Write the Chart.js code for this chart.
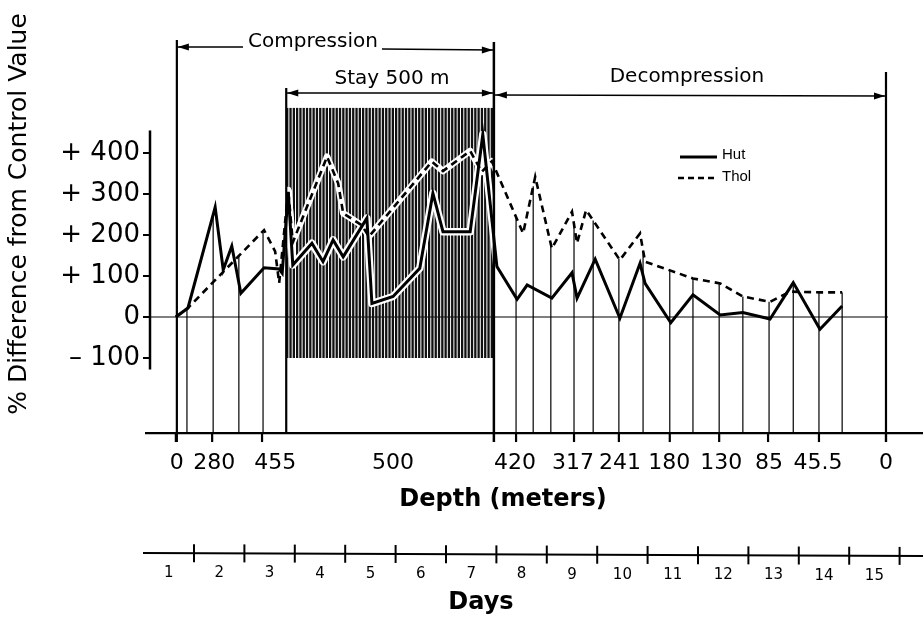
<!DOCTYPE html>
<html lang="en">
<head>
<meta charset="utf-8" />
<title>Hut and Thol through compression, stay and decompression</title>
<script src="https://cdn.jsdelivr.net/npm/chart.js@4.4.1/dist/chart.umd.min.js"></script>
<style>
    html, body { margin: 0; padding: 0; background: #fff; }
    #wrap { width: 923px; height: 620px; }
</style>
</head>
<body>
<div id="wrap"><canvas id="chart" width="923" height="620"></canvas></div>

<script>
// sample times, in days from the start of the record
var days = [0.64, 0.88, 1.42, 1.58, 1.75, 1.93, 2.39, 2.61, 2.69, 2.75, 2.87, 2.96, 3.34, 3.56, 3.64, 3.76, 3.86, 3.96,
            4.33, 4.43, 4.47, 4.53, 4.95, 5.48, 5.72, 5.74, 5.94, 6.48, 6.71, 6.73, 6.91, 7.01, 7.41, 7.53, 7.61, 7.77,
            8.10, 8.50, 8.60, 8.78, 8.96, 9.45, 9.85, 9.95, 10.46, 10.90, 11.44, 11.89, 12.43, 12.83, 12.89, 13.42, 13.86];

// % difference from control value
var hut  = [0, 22, 268, 115, 173, 58, 120, null, 117, 107, 305, 127, 180, 135, null, 188, null, 147,
            null, 241, null, 33, 50, 119, null, 302, 208, 208, null, 445, null, 123, 43, null, 78, null,
            46, 108, 46, null, 141, -3, 131, 82, -14, 54, 5, 11, -5, null, 84, -30, 27];
var thol = [0, 22, null, null, null, null, 212, 160, 83, null, 310, 182, null, null, 391, null, 326, 253,
            224, null, 196, null, null, null, 379, null, 356, 405, 354, null, 380, null, null, 204, null, 342,
            167, 257, 180, 261, null, 139, 204, 135, null, 94, 82, 50, 37, 62, null, 60, 60];

// thin marker lines dropped to the depth axis
var sampleDays = [0.86, 1.38, 1.89, 2.37, 7.39, 7.73, 8.08, 8.54, 8.92, 9.43, 9.91, 10.44, 10.90,
                  11.42, 11.89, 12.41, 12.89, 13.40, 13.86];

// phases
var compressionStart = 0.66;
var stayStart = 2.83;
var decompressionStart = 6.95;
var endDay = 14.73;

var yTicks = [400, 300, 200, 100, 0, -100];
var yTickLabels = ['+ 400', '+ 300', '+ 200', '+ 100', '0', '\u2013 100'];

var depthTickDays = [0.64, 1.36, 2.35, 7.39, 8.54, 9.43, 10.44, 11.42, 12.39, 13.40, 14.73];
var depthLabels = ['0', '280', '455', '500', '420', '317', '241', '180', '130', '85', '45.5', '0'];
var depthLabelDays = [0.66, 1.40, 2.61, 4.95, 7.37, 8.52, 9.45, 10.43, 11.46, 12.41, 13.38, 14.73];

var dayLabels = ['1', '2', '3', '4', '5', '6', '7', '8', '9', '10', '11', '12', '13', '14', '15'];

var FONT = '"DejaVu Sans", sans-serif';
var BASE = -283;       // value where the depth axis sits
var HATCH_TOP = 510;
var HATCH_BOTTOM = -100;

function pts(ys) {
    return days.map(function (d, i) { return { x: d, y: ys[i] }; });
}

// linear lookup along a series, skipping gaps
function valueAt(ys, x) {
    var px = null, pv = null;
    for (var i = 0; i < days.length; i++) {
        if (ys[i] === null) continue;
        if (days[i] >= x) {
            if (px === null) return ys[i];
            return pv + (ys[i] - pv) * (x - px) / (days[i] - px);
        }
        px = days[i]; pv = ys[i];
    }
    return pv;
}

function text(ctx, s, x, y, size, weight, align) {
    ctx.font = (weight || 'normal') + ' ' + size + 'px ' + FONT;
    ctx.textAlign = align || 'center';
    ctx.textBaseline = 'middle';
    ctx.fillText(s, x, y);
}

function arrowHead(ctx, x, y, dir) {
    ctx.beginPath();
    ctx.moveTo(x, y);
    ctx.lineTo(x - dir * 11, y - 3.5);
    ctx.lineTo(x - dir * 11, y + 3.5);
    ctx.closePath();
    ctx.fill();
}

function vline(ctx, x, y1, y2, w) {
    ctx.lineWidth = w;
    ctx.beginPath();
    ctx.moveTo(x, y1);
    ctx.lineTo(x, y2);
    ctx.stroke();
}

function strokeSeries(ctx, sx, sy, ys) {
    ctx.beginPath();
    var started = false;
    for (var i = 0; i < days.length; i++) {
        if (ys[i] === null) continue;
        var X = sx.getPixelForValue(days[i]), Y = sy.getPixelForValue(ys[i]);
        if (!started) { ctx.moveTo(X, Y); started = true; } else { ctx.lineTo(X, Y); }
    }
    ctx.stroke();
}

var figure = {
    id: 'figure',
    beforeDatasetsDraw: function (chart) {
        var ctx = chart.ctx, sx = chart.scales.x, sy = chart.scales.y;
        var baseY = sy.getPixelForValue(BASE);
        ctx.save();
        ctx.strokeStyle = '#000';
        ctx.fillStyle = '#000';

        // drop lines
        sampleDays.forEach(function (d) {
            var top = Math.max(valueAt(hut, d), valueAt(thol, d));
            vline(ctx, sx.getPixelForValue(d), sy.getPixelForValue(top), baseY, 1.2);
        });

        // zero line
        ctx.lineWidth = 1.2;
        ctx.beginPath();
        ctx.moveTo(150, sy.getPixelForValue(0));
        ctx.lineTo(sx.getPixelForValue(endDay) + 2, sy.getPixelForValue(0));
        ctx.stroke();

        // hatched block for the stay at 500 m
        var hx1 = sx.getPixelForValue(stayStart), hx2 = sx.getPixelForValue(decompressionStart);
        var hy1 = sy.getPixelForValue(HATCH_TOP), hy2 = sy.getPixelForValue(HATCH_BOTTOM);
        ctx.strokeStyle = '#111';
        for (var x = hx1 + 1; x < hx2; x += 3.3) {
            vline(ctx, x, hy1, hy2, 2.3);
        }

        // white edges under the curves inside the block
        ctx.save();
        ctx.beginPath();
        ctx.rect(hx1, hy1, hx2 - hx1, hy2 - hy1);
        ctx.clip();
        ctx.strokeStyle = '#fff';
        ctx.lineJoin = 'round';
        ctx.lineWidth = 7.5;
        strokeSeries(ctx, sx, sy, hut);
        ctx.lineWidth = 6.5;
        strokeSeries(ctx, sx, sy, thol);
        ctx.restore();
        ctx.restore();
    },
    afterDraw: function (chart) {
        var ctx = chart.ctx, sx = chart.scales.x, sy = chart.scales.y;
        var baseY = sy.getPixelForValue(BASE);
        ctx.save();
        ctx.strokeStyle = '#000';
        ctx.fillStyle = '#000';

        // y axis
        vline(ctx, 150, sy.getPixelForValue(455), sy.getPixelForValue(-128), 2.5);
        yTicks.forEach(function (v, i) {
            var y = sy.getPixelForValue(v);
            ctx.lineWidth = 2;
            ctx.beginPath(); ctx.moveTo(143, y); ctx.lineTo(150, y); ctx.stroke();
            text(ctx, yTickLabels[i], 140, y, 26, 'normal', 'right');
        });
        ctx.save();
        ctx.translate(19, 214);
        ctx.rotate(-Math.PI / 2);
        text(ctx, '% Difference from Control Value', 0, 0, 25);
        ctx.restore();

        // depth axis
        ctx.lineWidth = 2.2;
        ctx.beginPath(); ctx.moveTo(145, baseY); ctx.lineTo(923, baseY); ctx.stroke();
        depthTickDays.forEach(function (d) {
            vline(ctx, sx.getPixelForValue(d), baseY, baseY + 9, 2.2);
        });
        depthLabels.forEach(function (s, i) {
            text(ctx, s, sx.getPixelForValue(depthLabelDays[i]), baseY + 30, 22);
        });
        text(ctx, 'Depth (meters)', 503, 500, 24, 'bold');

        // phase boundaries and arrows
        var xc = sx.getPixelForValue(compressionStart);
        var xs = sx.getPixelForValue(stayStart);
        var xd = sx.getPixelForValue(decompressionStart);
        var xe = sx.getPixelForValue(endDay);
        vline(ctx, xc, 40, baseY + 9, 2.2);
        vline(ctx, xs, 88, baseY, 2.2);
        vline(ctx, xd, 42, baseY + 9, 2.5);
        vline(ctx, xe, 72, baseY + 9, 2.2);

        ctx.lineWidth = 1.6;
        ctx.beginPath();
        ctx.moveTo(xc, 47); ctx.lineTo(243, 47);
        ctx.moveTo(382, 49); ctx.lineTo(xd, 50);
        ctx.moveTo(xs, 93); ctx.lineTo(xd, 93);
        ctx.moveTo(xd, 95); ctx.lineTo(xe, 96);
        ctx.stroke();
        arrowHead(ctx, xc + 1, 47, -1);
        arrowHead(ctx, xd - 1, 50, 1);
        arrowHead(ctx, xs + 1, 93, -1);
        arrowHead(ctx, xd - 1, 93, 1);
        arrowHead(ctx, xd + 2, 95, -1);
        arrowHead(ctx, xe - 1, 96, 1);
        text(ctx, 'Compression', 313, 42, 20);
        text(ctx, 'Stay 500 m', (xs + xd) / 2 + 2, 79, 20);
        text(ctx, 'Decompression', (xd + xe) / 2 - 3, 77, 20);

        // legend
        ctx.lineWidth = 3;
        ctx.beginPath(); ctx.moveTo(680, 157); ctx.lineTo(717, 157); ctx.stroke();
        ctx.lineWidth = 2.4;
        ctx.setLineDash([6, 4]);
        ctx.beginPath(); ctx.moveTo(678, 178); ctx.lineTo(717, 178); ctx.stroke();
        ctx.setLineDash([]);
        ctx.font = '15px "Liberation Sans", sans-serif';
        ctx.textAlign = 'left';
        ctx.textBaseline = 'alphabetic';
        ctx.fillText('Hut', 722, 159);
        ctx.fillText('Thol', 722, 181);

        // days scale
        var dy = 553;
        ctx.lineWidth = 2;
        ctx.beginPath(); ctx.moveTo(143, dy); ctx.lineTo(923, dy + 3); ctx.stroke();
        dayLabels.forEach(function (s, i) {
            var tx = sx.getPixelForValue(i + 1);
            var off = (tx - 143) / 780 * 3;
            vline(ctx, tx, dy + off - 9, dy + off + 9, 2);
            text(ctx, s, sx.getPixelForValue(i + 0.5), dy + off + 20, 15);
        });
        text(ctx, 'Days', 481, 603, 24, 'bold');
        ctx.restore();
    }
};

new Chart(document.getElementById('chart'), {
    type: 'line',
    data: {
        datasets: [
            {
                label: 'Hut',
                data: pts(hut),
                borderColor: '#000',
                borderWidth: 3,
                tension: 0,
                spanGaps: true,
                pointRadius: 0
            },
            {
                label: 'Thol',
                data: pts(thol),
                borderColor: '#000',
                borderWidth: 2.6,
                borderDash: [7, 5],
                tension: 0,
                spanGaps: true,
                pointRadius: 0
            }
        ]
    },
    options: {
        responsive: false,
        animation: false,
        devicePixelRatio: 1,
        layout: { padding: { left: 143.6, right: 23.4, top: 0, bottom: 0 } },
        plugins: { legend: { display: false }, tooltip: { enabled: false } },
        scales: {
            x: { type: 'linear', min: 0, max: 15, display: false },
            y: { type: 'linear', min: -739, max: 773.2, display: false }
        }
    },
    plugins: [figure]
});
</script>
</body>
</html>
